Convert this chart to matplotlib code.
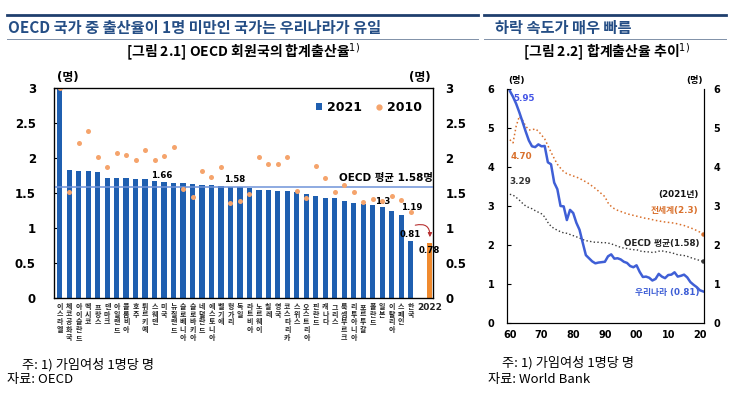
import matplotlib
matplotlib.use("Agg")
import matplotlib.pyplot as plt
from matplotlib.lines import Line2D
from matplotlib.patches import Patch, FancyArrowPatch

KR = ['Noto Sans CJK KR', 'DejaVu Sans']
LAT = ['DejaVu Sans', 'Noto Sans CJK KR']
plt.rcParams['font.family'] = KR

# ---- data: [그림 2.1] OECD 회원국 합계출산율 ----
countries = ["이스라엘", "체코공화국", "아이슬란드", "멕시코", "프랑스", "덴마크", "아일랜드",
             "콜롬비아", "호주", "튀르키예", "스웨덴", "미국", "뉴질랜드", "슬로베니아",
             "슬로바키아", "네덜란드", "에스토니아", "벨기에", "헝가리", "독일", "라트비아",
             "노르웨이", "칠레", "영국", "코스타리카", "스위스", "오스트리아", "핀란드",
             "캐나다", "그리스", "룩셈부르크", "리투아니아", "포르투갈", "폴란드", "일본",
             "이탈리아", "스페인", "한국"]
tfr_2021 = [2.98, 1.83, 1.82, 1.82, 1.80, 1.72, 1.72, 1.72, 1.70, 1.70, 1.67, 1.66, 1.64,
            1.64, 1.63, 1.62, 1.61, 1.60, 1.59, 1.58, 1.57, 1.55, 1.54, 1.53, 1.53, 1.51,
            1.48, 1.46, 1.43, 1.43, 1.38, 1.36, 1.35, 1.33, 1.30, 1.25, 1.19, 0.81]
tfr_2010 = [3.00, 1.51, 2.22, 2.38, 2.02, 1.87, 2.07, 2.05, 1.97, 2.12, 1.97, 2.03, 2.16,
            1.56, 1.44, 1.81, 1.73, 1.87, 1.36, 1.39, 1.49, 2.01, 1.92, 1.92, 2.01, 1.53,
            1.43, 1.89, 1.71, 1.52, 1.62, 1.52, 1.37, 1.41, 1.39, 1.46, 1.40, 1.23]
korea_2022 = 0.78
oecd_avg = 1.58

# ---- data: [그림 2.2] 합계출산율 추이 (1960~2021) ----
years = list(range(1960, 2022))
korea = [5.95, 5.80, 5.62, 5.40, 5.16, 4.91, 4.68, 4.53, 4.51, 4.58, 4.53, 4.54, 4.12,
         4.07, 3.60, 3.43, 3.00, 2.99, 2.64, 2.90, 2.82, 2.57, 2.39, 2.06, 1.74, 1.66,
         1.58, 1.53, 1.55, 1.56, 1.57, 1.71, 1.76, 1.65, 1.66, 1.63, 1.57, 1.54, 1.46,
         1.43, 1.48, 1.31, 1.18, 1.19, 1.16, 1.09, 1.13, 1.26, 1.19, 1.15, 1.23, 1.24,
         1.30, 1.19, 1.21, 1.24, 1.17, 1.05, 0.98, 0.92, 0.84, 0.81]
world = [4.70, 4.62, 5.05, 5.30, 5.20, 5.05, 4.95, 4.95, 4.98, 4.92, 4.82, 4.72, 4.55,
         4.38, 4.22, 4.07, 3.97, 3.88, 3.83, 3.80, 3.77, 3.74, 3.71, 3.66, 3.62, 3.57,
         3.51, 3.45, 3.38, 3.31, 3.24, 3.08, 2.99, 2.93, 2.89, 2.86, 2.83, 2.80, 2.78,
         2.76, 2.74, 2.72, 2.70, 2.68, 2.67, 2.65, 2.63, 2.62, 2.60, 2.59, 2.58, 2.57,
         2.56, 2.54, 2.52, 2.50, 2.47, 2.44, 2.41, 2.37, 2.33, 2.28]
oecd = [3.30, 3.28, 3.22, 3.15, 3.07, 3.00, 2.96, 2.93, 2.88, 2.84, 2.80, 2.72, 2.58,
        2.48, 2.42, 2.38, 2.34, 2.31, 2.30, 2.27, 2.24, 2.21, 2.18, 2.14, 2.11, 2.10,
        2.08, 2.07, 2.07, 2.06, 2.06, 2.05, 2.03, 2.00, 1.97, 1.94, 1.92, 1.91, 1.89,
        1.88, 1.88, 1.85, 1.83, 1.83, 1.82, 1.81, 1.82, 1.84, 1.85, 1.83, 1.82, 1.80,
        1.78, 1.75, 1.74, 1.73, 1.71, 1.68, 1.65, 1.63, 1.60, 1.58]
decade_ticks = [1960, 1970, 1980, 1990, 2000, 2010, 2020]
decade_labels = ["60", "70", "80", "90", "00", "10", "20"]

BAR = '#1F5FB0'
DOT = '#F5A46C'
ORANGE_BAR = '#F08A2E'
NAVY = '#1F3F6E'
TITLE = '#254E85'

fig = plt.figure(figsize=(7.3, 3.93), dpi=100)


def px(x, y):
    return x / 730, 1 - y / 393


# header lines and titles
for x0, x1 in [(7, 478), (484, 726)]:
    fig.add_artist(Line2D([x0 / 730, x1 / 730], [1 - 15 / 393] * 2, color=NAVY, lw=2.0))
    fig.add_artist(Line2D([x0 / 730, x1 / 730], [1 - 39 / 393] * 2, color='#8090A8', lw=0.7))
fig.text(*px(8, 28), "OECD 국가 중 출산율이 1명 미만인 국가는 우리나라가 유일",
         fontsize=11, weight='bold', color=TITLE, va='center')
fig.text(*px(495, 28), "하락 속도가 매우 빠름", fontsize=11, weight='bold', color=TITLE, va='center')
fig.text(*px(243, 52), "[그림 2.1] OECD 회원국의 합계출산율$^{1)}$", fontsize=10, weight='bold',
         ha='center', va='center')
fig.text(*px(607, 52), "[그림 2.2] 합계출산율 추이$^{1)}$", fontsize=10, weight='bold',
         ha='center', va='center')

# footers
fig.text(*px(22, 365), "주: 1) 가임여성 1명당 명", fontsize=9.5, va='center')
fig.text(*px(7, 380), "자료: OECD", fontsize=9.5, va='center')
fig.text(*px(502, 363), "주: 1) 가임여성 1명당 명", fontsize=9.5, va='center')
fig.text(*px(488, 380), "자료: World Bank", fontsize=9.5, va='center')

# ---------------- left chart ----------------
ax = fig.add_axes([54 / 730, 1 - 298 / 393, 379 / 730, 210 / 393])
pos = list(range(len(countries)))
pos_2022 = len(countries) + 1
ax.bar(pos, tfr_2021, width=0.55, color=BAR, zorder=2)
ax.bar([pos_2022], [korea_2022], width=0.55, color=ORANGE_BAR, zorder=2)
ax.scatter(pos, tfr_2010, s=13, color=DOT, zorder=4, linewidths=0)
ax.axhline(oecd_avg, color='#6F93D8', lw=1.1, zorder=3)
ax.set_xlim(-0.6, pos_2022 + 0.35)
ax.set_ylim(0, 3.0)
ax.set_yticks([0, 0.5, 1, 1.5, 2, 2.5, 3])
ax.set_yticklabels(["0", "0.5", "1", "1.5", "2", "2.5", "3"])
ax.tick_params(axis='y', direction='in', length=3, pad=13, labelsize=8.5,
               left=True, right=True, labelleft=True, labelright=False)
for lab in ax.get_yticklabels():
    lab.set_family(LAT)
    lab.set_weight('bold')
ax2 = ax.twinx()
ax2.set_ylim(ax.get_ylim())
ax2.set_yticks([0, 0.5, 1, 1.5, 2, 2.5, 3])
ax2.set_yticklabels(["0", "0.5", "1", "1.5", "2", "2.5", "3"])
ax2.tick_params(axis='y', length=0, pad=9, labelsize=8.5)
for lab in ax2.get_yticklabels():
    lab.set_family(LAT)
    lab.set_weight('bold')

ax.set_xticks(pos + [pos_2022])
ax.set_xticklabels(["\n".join(c) for c in countries] + ["2022"])
ax.tick_params(axis='x', length=0, pad=3.5)
for lab in ax.get_xticklabels():
    lab.set_fontsize(5.0)
    lab.set_weight('bold')
    lab.set_linespacing(1.12)
    lab.set_color('#222222')
last = ax.get_xticklabels()[-1]
last.set_family(LAT)
last.set_fontsize(6.5)
for s in ax.spines.values():
    s.set_linewidth(0.9)

vfont = dict(family=LAT, fontsize=6.2, weight='bold')
ax.text(10.8, tfr_2021[11] + 0.03, "1.66", ha='center', va='bottom', **vfont)
ax.text(18.4, tfr_2021[19] + 0.05, "1.58", ha='center', va='bottom', **vfont)
ax.text(34, tfr_2021[34] + 0.02, "1.3", ha='center', va='bottom', **vfont)
ax.text(36, tfr_2021[36] + 0.04, "1.19", ha='left', va='bottom', **vfont)
ax.text(37, tfr_2021[37] + 0.03, "0.81", ha='center', va='bottom', **vfont)
ax.text(pos_2022, korea_2022 - 0.1, "0.78", ha='center', va='center', **vfont)
ax.text(pos_2022 + 0.3, oecd_avg + 0.07, "OECD 평균 1.58명", ha='right', va='bottom',
        family=LAT, fontsize=7.5, weight='bold')
ax.add_patch(FancyArrowPatch((37.2, 1.03), (39.0, 0.83), connectionstyle='arc3,rad=-0.75',
                             arrowstyle='-|>', mutation_scale=6, color='#B83232', lw=0.8,
                             zorder=5))
ax.legend([Patch(facecolor=BAR), Line2D([], [], marker='o', ls='', color=DOT, ms=3.5)],
          ["2021", "2010"], loc='upper right', bbox_to_anchor=(1.0, 0.99), ncol=2,
          frameon=False, prop=dict(family=LAT, weight='bold', size=9), handlelength=0.5,
          handleheight=0.5, handletextpad=0.4, columnspacing=1.1)
fig.text(*px(57, 78), "(명)", fontsize=8.5, weight='bold', va='center', family=LAT)
fig.text(*px(431, 78), "(명)", fontsize=8.5, weight='bold', va='center', ha='right', family=LAT)

# ---------------- right chart ----------------
bx = fig.add_axes([507 / 730, 1 - 323 / 393, 197 / 730, 234 / 393])
bx.plot(years, world, ls=':', color='#D9702C', lw=1.1, marker='o', ms=2.2, markevery=[-1])
bx.plot(years, oecd, ls=':', color='#3A3A3A', lw=1.0, marker='o', ms=2.2, markevery=[-1])
bx.plot(years, korea, color='#3F5FD6', lw=1.8)
bx.set_xlim(1959.1, 2021.3)
bx.set_ylim(0, 6)
bx.spines['top'].set_visible(False)
for s in bx.spines.values():
    s.set_linewidth(0.8)
bx.set_xticks(decade_ticks)
bx.set_xticklabels(decade_labels)
bx.set_yticks(range(7))
bx.tick_params(axis='x', length=0, pad=5, labelsize=7)
bx.tick_params(axis='y', direction='in', length=3, pad=9, labelsize=7,
               left=True, right=True, labelleft=True, labelright=False)
for lab in bx.get_xticklabels() + bx.get_yticklabels():
    lab.set_family(LAT)
    lab.set_weight('bold')
bx2 = bx.twinx()
bx2.set_ylim(0, 6)
bx2.set_yticks(range(7))
bx2.tick_params(axis='y', length=0, pad=7, labelsize=7)
bx2.spines['top'].set_visible(False)
for lab in bx2.get_yticklabels():
    lab.set_family(LAT)
    lab.set_weight('bold')

afont = dict(family=LAT, fontsize=6.3, weight='bold')
bx.text(years[0] + 1.0, korea[0] - 0.2, "5.95", color='#4455E6', va='center', **afont)
bx.text(years[0] + 0.1, world[0] - 0.42, "4.70", color='#D9702C', va='center', **afont)
bx.text(years[0] + 0.0, oecd[0] + 0.33, "3.29", color='#333333', va='center', **afont)
bx.text(2019.5, 3.3, "(2021년)", color='#111111', ha='right', va='center', **afont)
bx.text(2019.5, 2.88, "전세계(2.3)", color='#D9702C', ha='right', va='center', **afont)
bx.text(2019.8, 2.03, "OECD 평균(1.58)", color='#222222', ha='right', va='center', **afont)
bx.text(2019.8, 0.79, "우리나라 (0.81)", color='#3F5FD6', ha='right', va='center', **afont)
fig.text(*px(508, 81), "(명)", fontsize=6.5, weight='bold', va='center', family=LAT)
fig.text(*px(703, 81), "(명)", fontsize=6.5, weight='bold', va='center', ha='right', family=LAT)

fig.savefig("out.png", dpi=100)
